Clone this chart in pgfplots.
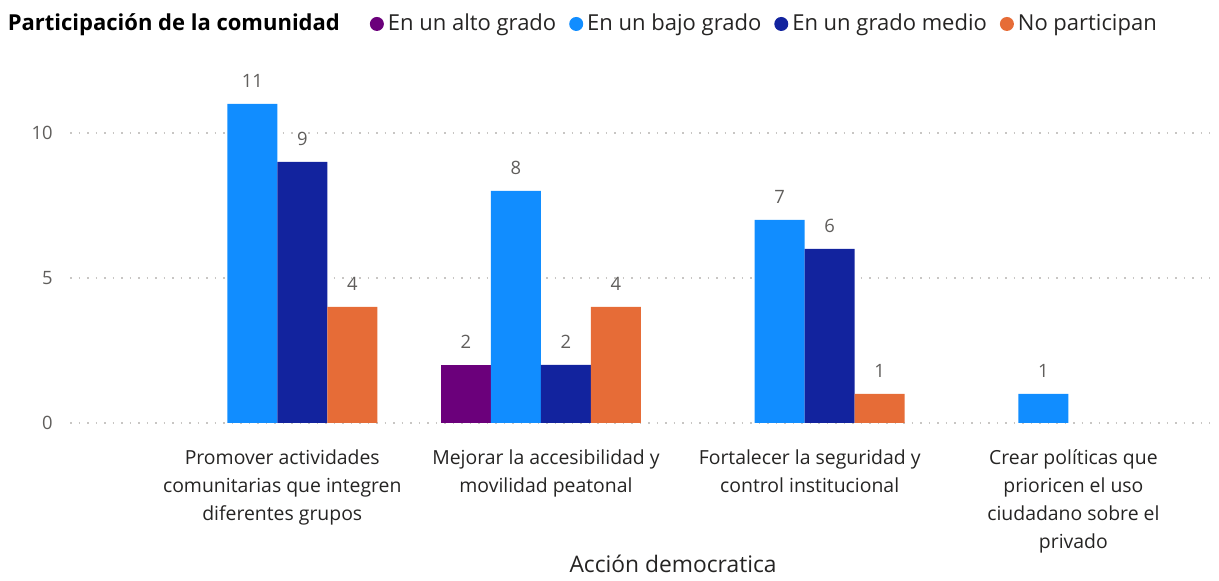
\documentclass[border=0pt]{standalone}
\usepackage{fontspec}
\setmainfont{Open Sans}
\usepackage{pgfplots}
\pgfplotsset{compat=1.18}
\definecolor{alto}{HTML}{6B007B}
\definecolor{bajo}{HTML}{118DFF}
\definecolor{medio}{HTML}{12239E}
\definecolor{nopart}{HTML}{E66C37}
\definecolor{tickc}{HTML}{605E5C}
\definecolor{labc}{HTML}{252423}
\definecolor{gridc}{HTML}{C8C6C4}
\pgfplotsset{circ legend/.style={legend image code/.code={\fill[##1] (0pt,0pt) circle (3.5pt);}}}

\begin{document}
\begin{tikzpicture}
\useasboundingbox (0,0) rectangle (609.5pt,290.5pt);
\begin{axis}[
  at={(35pt,79pt)}, anchor=south west,
  scale only axis, width=570pt, height=174pt,
  xmin=-0.786, xmax=3.537, ymin=0, ymax=12,
  /pgf/number format/assume math mode=true,
  axis line style={draw=none}, major tick length=0pt,
  ytick={0,5,10}, ymajorgrids,
  grid style={gridc, line width=0.75pt, dash pattern=on 0.75pt off 3.5pt},
  yticklabel style={font=\fontsize{9.2}{11}\selectfont, text=tickc,
    anchor=east, inner sep=0pt, xshift=-8.5pt},
  xtick={0,1,2,3},
  xticklabels={{Promover actividades\\comunitarias que integren\\diferentes grupos},
    {Mejorar la accesibilidad y\\movilidad peatonal},
    {Fortalecer la seguridad y\\control institucional},
    {Crear políticas que\\prioricen el uso\\ciudadano sobre el\\privado}},
  xticklabel style={font=\fontsize{9.7}{14}\selectfont, text=labc, align=center,
    anchor=north, inner sep=0pt, yshift=-13.2pt, xshift=2.5pt},
  xlabel={Acción democratica},
  xlabel style={at={(axis description cs:0.529,0)}, anchor=base, yshift=-75pt,
    font=\fontsize{11.4}{13}\selectfont, text=labc},
  every node near coord/.append style={font=\fontsize{9.2}{11}\selectfont,
    text=tickc, anchor=south, inner sep=0pt, yshift=8pt},
  legend columns=-1,
  legend style={draw=none, fill=none, inner sep=0pt,
    at={(axis description cs:-0.0584,1.1466)}, anchor=west,
    font=\fontsize{11}{13}\selectfont, text=labc,
    /tikz/every even column/.append style={column sep=4.5pt}},
  legend entries={{\textbf{\color{black}Participación de la comunidad}\kern8.5pt},
    En un alto grado, En un bajo grado, En un grado medio, No participan},
]
\addlegendimage{empty legend}
\addplot[ybar, bar width=25pt, bar shift=-37.5pt, fill=alto, draw=none,
  circ legend, nodes near coords,
  every node near coord/.append style={xshift=-37.5pt}] coordinates {(1,2)};
\addplot[ybar, bar width=25pt, bar shift=-12.5pt, fill=bajo, draw=none,
  circ legend, nodes near coords,
  every node near coord/.append style={xshift=-12.5pt}] coordinates {(0,11) (1,8) (2,7) (3,1)};
\addplot[ybar, bar width=25pt, bar shift=12.5pt, fill=medio, draw=none,
  circ legend, nodes near coords,
  every node near coord/.append style={xshift=12.5pt}] coordinates {(0,9) (1,2) (2,6)};
\addplot[ybar, bar width=25pt, bar shift=37.5pt, fill=nopart, draw=none,
  circ legend, nodes near coords,
  every node near coord/.append style={xshift=37.5pt}] coordinates {(0,4) (1,4) (2,1)};
\end{axis}
\end{tikzpicture}
\end{document}
